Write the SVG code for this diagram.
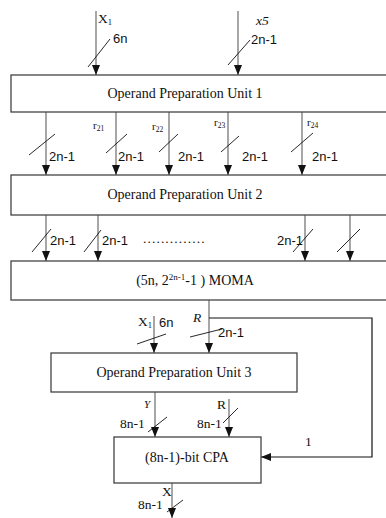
<svg xmlns="http://www.w3.org/2000/svg" width="386" height="518" viewBox="0 0 386 518">
  <style>
    .box { fill: #ffffff; stroke: #444444; stroke-width: 1.3; }
    .wire { fill: none; stroke: #777777; stroke-width: 1.3; }
    .fb { fill: none; stroke: #111111; stroke-width: 1.2; }
    .tick { stroke: #111111; stroke-width: 0.9; }
    .t { font-family: "Liberation Serif", "Times New Roman", serif; fill: #111111; }
    .s { font-family: "Liberation Sans", Arial, sans-serif; fill: #111111; }
    .title { font-size: 14px; text-anchor: middle; }
    .lbl { font-size: 13.5px; }
    .sl { font-size: 13px; }
    .it { font-style: italic; }
  </style>
  <defs>
    <marker id="ah" markerUnits="userSpaceOnUse" markerWidth="10" markerHeight="8" refX="10" refY="4" orient="auto">
      <path d="M0,0 L10,4 L0,8 z" fill="#111111"/>
    </marker>
  </defs>
  <rect width="386" height="518" fill="#ffffff"/>

  <!-- connectors -->
  <g id="connectors">
    <line class="wire" x1="96" y1="11" x2="96" y2="75" marker-end="url(#ah)"/>
    <line class="wire" x1="238" y1="11" x2="238" y2="75" marker-end="url(#ah)"/>

    <line class="wire" x1="46" y1="112" x2="46" y2="175" marker-end="url(#ah)"/>
    <line class="wire" x1="116" y1="112" x2="116" y2="175" marker-end="url(#ah)"/>
    <line class="wire" x1="169" y1="112" x2="169" y2="175" marker-end="url(#ah)"/>
    <line class="wire" x1="228" y1="112" x2="228" y2="175" marker-end="url(#ah)"/>
    <line class="wire" x1="302" y1="112" x2="302" y2="175" marker-end="url(#ah)"/>

    <line class="wire" x1="46" y1="215" x2="46" y2="261" marker-end="url(#ah)"/>
    <line class="wire" x1="98" y1="215" x2="98" y2="261" marker-end="url(#ah)"/>
    <line class="wire" x1="305" y1="215" x2="305" y2="261" marker-end="url(#ah)"/>
    <line class="wire" x1="350" y1="215" x2="350" y2="261" marker-end="url(#ah)"/>

    <line class="wire" x1="209" y1="300" x2="209" y2="353" marker-end="url(#ah)"/>
    <polyline class="fb" points="209,318 372,318 372,457 261,457" marker-end="url(#ah)"/>
    <line class="wire" x1="154" y1="316" x2="154" y2="353" marker-end="url(#ah)"/>

    <line class="wire" x1="155" y1="392" x2="155" y2="437" marker-end="url(#ah)"/>
    <line class="wire" x1="229" y1="399" x2="229" y2="437" marker-end="url(#ah)"/>
    <line class="wire" x1="172" y1="483" x2="172" y2="518" marker-end="url(#ah)"/>

    <!-- bus-width ticks -->
    <line class="tick" x1="88" y1="67" x2="110" y2="39"/>
    <line class="tick" x1="228" y1="65" x2="250" y2="40"/>

    <line class="tick" x1="29" y1="155" x2="55" y2="134"/>
    <line class="tick" x1="106" y1="153" x2="127" y2="134"/>
    <line class="tick" x1="159" y1="152" x2="178" y2="134"/>
    <line class="tick" x1="221" y1="152" x2="239" y2="136"/>
    <line class="tick" x1="291" y1="152" x2="313" y2="133"/>

    <line class="tick" x1="32" y1="252" x2="51" y2="229"/>
    <line class="tick" x1="84" y1="252" x2="101" y2="230"/>
    <line class="tick" x1="293" y1="252" x2="313" y2="229"/>
    <line class="tick" x1="337" y1="252" x2="360" y2="229"/>

    <line class="tick" x1="190" y1="337" x2="222" y2="329"/>
    <line class="tick" x1="137" y1="344" x2="166" y2="334"/>

    <line class="tick" x1="148" y1="432" x2="167" y2="417"/>
    <line class="tick" x1="223" y1="423" x2="238" y2="408"/>
    <line class="tick" x1="167" y1="512" x2="183" y2="500"/>
  </g>

  <!-- labels on connectors -->
  <g id="labels">
    <text class="t lbl" x="98" y="23">X<tspan font-size="8.5" dy="2">1</tspan></text>
    <text class="s sl" x="113" y="43">6n</text>
    <text class="t lbl it" x="256" y="25">x5</text>
    <text class="s sl" x="251" y="44">2n-1</text>

    <text class="t" font-size="11" x="93" y="129">r<tspan font-size="7.5" dy="2">21</tspan></text>
    <text class="t" font-size="11" x="152" y="130">r<tspan font-size="7.5" dy="2">22</tspan></text>
    <text class="t" font-size="11" x="214" y="126">r<tspan font-size="7.5" dy="2">23</tspan></text>
    <text class="t" font-size="11" x="307" y="126">r<tspan font-size="7.5" dy="2">24</tspan></text>

    <text class="s sl" x="49" y="161">2n-1</text>
    <text class="s sl" x="118" y="161">2n-1</text>
    <text class="s sl" x="178" y="161">2n-1</text>
    <text class="s sl" x="242" y="161">2n-1</text>
    <text class="s sl" x="312" y="161">2n-1</text>

    <text class="s sl" x="50" y="245">2n-1</text>
    <text class="s sl" x="102" y="245">2n-1</text>
    <text class="t lbl" x="143" y="243" letter-spacing="1.1">..............</text>
    <text class="s sl" x="277" y="245">2n-1</text>

    <text class="t lbl it" x="193" y="322">R</text>
    <text class="s sl" x="218" y="337">2n-1</text>
    <text class="t lbl" x="138" y="326">X<tspan font-size="8.5" dy="2">1</tspan></text>
    <text class="s sl" x="159" y="327">6n</text>

    <text class="t it" font-size="11" x="144" y="408">Y</text>
    <text class="t lbl" x="120" y="428">8n-1</text>
    <text class="t lbl" x="217" y="409">R</text>
    <text class="t lbl" x="197" y="428">8n-1</text>
    <text class="t lbl" x="305" y="446">1</text>
    <text class="t lbl" x="162" y="496">X</text>
    <text class="t lbl" x="138" y="509">8n-1</text>
  </g>

  <g id="opu1">
    <rect class="box" x="11" y="75" width="380" height="37"/>
    <text class="t title" x="185" y="98">Operand Preparation Unit  1</text>
  </g>
  <g id="opu2">
    <rect class="box" x="11" y="175" width="380" height="40"/>
    <text class="t title" x="185" y="199">Operand Preparation Unit  2</text>
  </g>
  <g id="moma">
    <rect class="box" x="11" y="261" width="380" height="39"/>
    <text class="t title" x="195" y="285">(5n, 2<tspan font-size="9" dy="-5">2n-1</tspan><tspan dy="5">-1 ) MOMA</tspan></text>
  </g>
  <g id="opu3">
    <rect class="box" x="51" y="353" width="246" height="39"/>
    <text class="t title" x="174" y="377">Operand Preparation Unit  3</text>
  </g>
  <g id="cpa">
    <rect class="box" x="114" y="437" width="147" height="46"/>
    <text class="t title" x="187" y="462">(8n-1)-bit CPA</text>
  </g>
</svg>
